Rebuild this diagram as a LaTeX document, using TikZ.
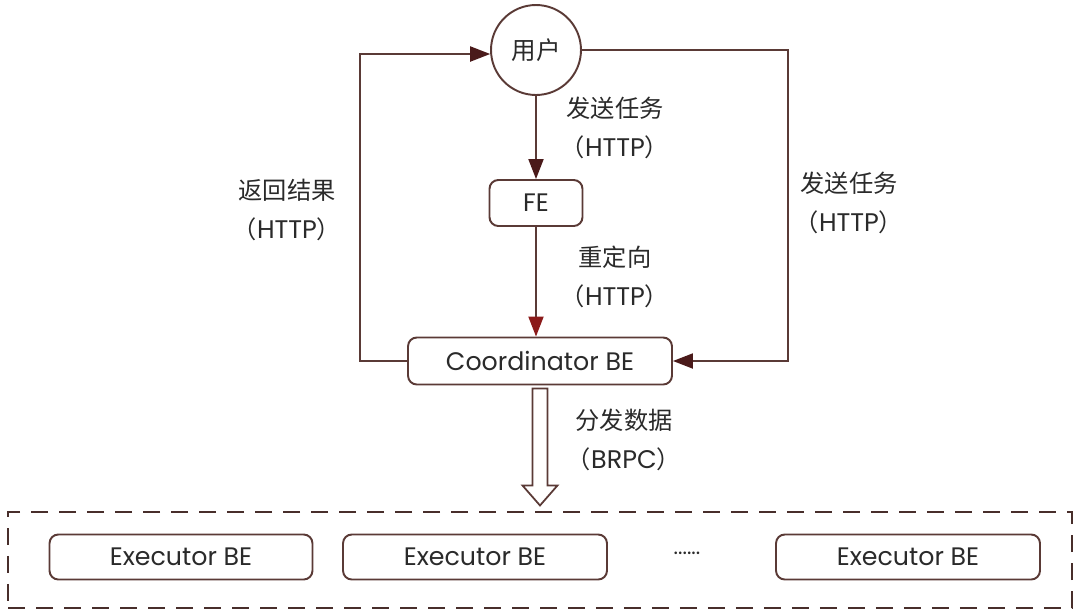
\documentclass[tikz,border=0pt]{standalone}
\usepackage{fontspec}
\setmainfont{Poppins}
\newfontfamily\cjk{Noto Sans CJK SC}
\usetikzlibrary{arrows.meta, positioning, calc}
\definecolor{cline}{HTML}{5A3A36}
\definecolor{chead}{HTML}{4A1A1A}
\definecolor{cred}{HTML}{8B1A1A}
\definecolor{ctext}{HTML}{2A2A2A}
\newcommand{\proto}[1]{（{\fontspec{Poppins}\fontsize{14.5}{22}\selectfont #1}）}
\tikzset{
  every picture/.style={line width=1.1pt},
  box/.style={draw=cline, rounded corners=5pt, text=ctext, inner sep=0pt, font=\fontsize{14.4}{16}\selectfont},
  user/.style={draw=cline, circle, minimum size=1.8cm, text=ctext, font=\cjk\fontsize{14}{16}\selectfont},
  lbl/.style={text=ctext, align=center, font=\cjk\fontsize{13.8}{22}\selectfont},
  arrow/.style={draw=cline, -{Triangle[length=4mm, width=3mm, color=chead]}},
  hollow/.style={draw=cline, fill=white, line width=1pt},
  group/.style={draw=cline!80!black, dashed, dash pattern=on 3.4mm off 2.2mm, line width=1pt},
}

\begin{document}
\begin{tikzpicture}[x=0.02cm, y=-0.02cm]
  \useasboundingbox (0,0) rectangle (1080,613);
  % top part: user, FE, coordinator
  \node[user] (user) at (536,50) {用户};
  \node[box, minimum width=1.86cm, minimum height=0.92cm] (fe) at (536,203) {FE};
  \node[box, minimum width=5.28cm, minimum height=0.94cm] (coord) at (540,361) {Coordinator BE};
  \coordinate (leftx) at (360,0);
  \coordinate (rightx) at (788,0);
  \draw[arrow] (user) -- (fe);
  \draw[arrow, -{Triangle[length=4mm, width=3mm, color=cred]}] (fe) -- (coord.north -| fe);
  \draw[arrow] (coord.west) -- (coord.west -| leftx) |- (user.185);
  \draw[arrow] (user.east) -- (user.east -| rightx) |- (coord.east);
  \node[lbl] (l1) at (615,128) {发送任务\\\proto{HTTP}};
  \node[lbl] (l2) at (615,277) {重定向\\\proto{HTTP}};
  \node[lbl] (l3) at (287,210) {返回结果\\\proto{HTTP}};
  \node[lbl] (l4) at (849,203) {发送任务\\\proto{HTTP}};
  \node[lbl] (l5) at (624,440) {分发数据\\\proto{BRPC}};
  % hollow arrow down to the executors
  \draw[hollow] ($(coord.south)+(-7.5,3)$) -- ++(0,97) -- ++(-10,0) -- ++(17.5,20)
    -- ++(17.5,-20) -- ++(-10,0) -- ++(0,-97) -- cycle;
  % executors
  \node[group, minimum width=21.28cm, minimum height=1.92cm] (grp) at (540,560) {};
  \node[box, minimum width=5.26cm, minimum height=0.9cm] (ex1) at (181,557) {Executor BE};
  \node[box, minimum width=5.28cm, minimum height=0.9cm] (ex2) at (475,557) {Executor BE};
  \node[text=ctext, font=\fontsize{12}{14}\selectfont] (dots) at (687,553) {......};
  \node[box, minimum width=5.28cm, minimum height=0.9cm] (ex3) at (908,557) {Executor BE};
\end{tikzpicture}
\end{document}
